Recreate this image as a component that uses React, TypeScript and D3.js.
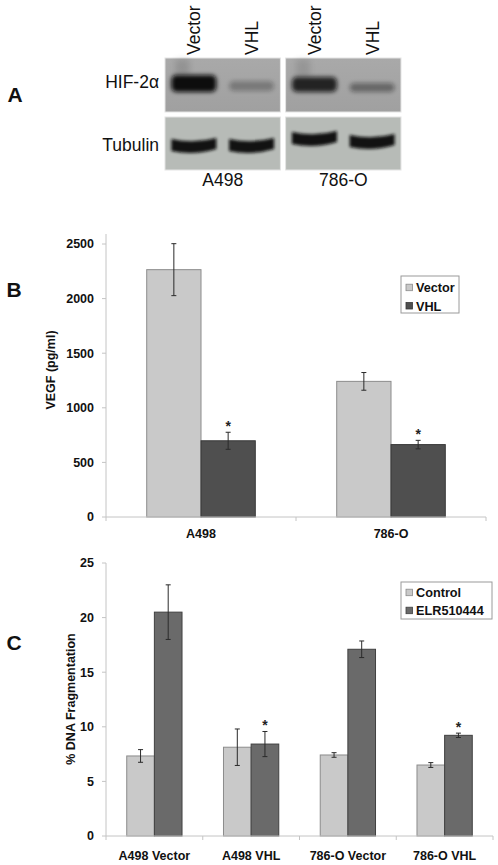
import React from 'react';
import * as d3 from 'd3';

// ---------- Panel A (western blot) ----------
const blotLanes = ['Vector', 'VHL', 'Vector', 'VHL'];
const blotCellLines = ['A498', '786-O'];
const blotRows = ['HIF-2α', 'Tubulin'];
const hifIntensity = [1.0, 0.28, 0.85, 0.4];
const tubulinIntensity = [0.97, 0.97, 0.97, 0.97];

// ---------- Panel B (VEGF) ----------
const vegfCategories = ['A498', '786-O'];
const vegfSeries = ['Vector', 'VHL'];
const vegfVector = [2265, 1242];
const vegfVectorErr = [238, 81];
const vegfVHL = [698, 663];
const vegfVHLErr = [78, 39];
const vegfStars = [true, true];
const vegfTicks = [0, 500, 1000, 1500, 2000, 2500];

// ---------- Panel C (DNA fragmentation) ----------
const fragCategories = ['A498 Vector', 'A498 VHL', '786-O Vector', '786-O VHL'];
const fragSeries = ['Control', 'ELR510444'];
const fragControl = [7.33, 8.13, 7.42, 6.5];
const fragControlErr = [0.58, 1.67, 0.21, 0.22];
const fragELR = [20.5, 8.42, 17.1, 9.22];
const fragELRErr = [2.5, 1.15, 0.76, 0.2];
const fragStars = [false, true, false, true];
const fragTicks = [0, 5, 10, 15, 20, 25];

const SANS = '"Liberation Sans", Arial, Helvetica, sans-serif';

type ChartProps = {
  cats: string[];
  series: string[];
  vals: number[][];
  errs: number[][];
  stars: boolean[];
  ticks: number[];
  xLeft: number;
  xRight: number;
  yTop: number;
  yBottom: number;
  axisTop: number;
  fills: string[];
  strokes: string[];
  yLabel: string;
  yLabelX: number;
  yLabelCY: number;
  catLabelY: number;
  legendX: number;
  legendY: number;
  legendW: number;
  legendH: number;
  legendRows: number[];
};

function BarChart(p: ChartProps) {
  const yMax = p.ticks[p.ticks.length - 1];
  const y = d3.scaleLinear().domain([0, yMax]).range([p.yBottom, p.yTop]);
  const x0 = d3.scaleBand<string>().domain(p.cats).range([p.xLeft, p.xRight]).padding(0);
  const x1 = d3
    .scaleBand<string>()
    .domain(p.series)
    .range([0, x0.step()])
    .paddingInner(0)
    .paddingOuter(0.75);
  const axisColor = '#c4c4c4';
  const bounds = [...p.cats.map((c) => x0(c) as number), p.xRight];
  return (
    <g>
      <line x1={p.xLeft} x2={p.xLeft} y1={p.axisTop} y2={p.yBottom} stroke={axisColor} strokeWidth={1} />
      {p.ticks.map((t) => (
        <g key={'t' + t}>
          <line x1={p.xLeft - 4} x2={p.xLeft} y1={y(t)} y2={y(t)} stroke={axisColor} />
          <text
            x={p.xLeft - 12}
            y={y(t)}
            dy="0.35em"
            textAnchor="end"
            fontFamily={SANS}
            fontWeight="bold"
            fontSize={12.5}
            fill="#111"
          >
            {t}
          </text>
        </g>
      ))}
      <text
        transform={`translate(${p.yLabelX},${p.yLabelCY}) rotate(-90)`}
        textAnchor="middle"
        fontFamily={SANS}
        fontWeight="bold"
        fontSize={12.5}
        fill="#111"
      >
        {p.yLabel}
      </text>
      {p.cats.map((c, ci) =>
        p.series.map((s, si) => {
          const v = p.vals[si][ci];
          const e = p.errs[si][ci];
          const bx = (x0(c) as number) + (x1(s) as number);
          const bw = x1.bandwidth();
          const cx = bx + bw / 2;
          return (
            <g key={c + s}>
              <rect
                x={bx}
                y={y(v)}
                width={bw}
                height={p.yBottom - y(v)}
                fill={p.fills[si]}
                stroke={p.strokes[si]}
                strokeWidth={1}
              />
              <line x1={cx} x2={cx} y1={y(v + e)} y2={y(v - e)} stroke="#2a2a2a" strokeWidth={1} />
              <line x1={cx - 2.5} x2={cx + 2.5} y1={y(v + e)} y2={y(v + e)} stroke="#2a2a2a" strokeWidth={1} />
              <line x1={cx - 2.5} x2={cx + 2.5} y1={y(v - e)} y2={y(v - e)} stroke="#2a2a2a" strokeWidth={1} />
              {si === 1 && p.stars[ci] ? (
                <text
                  x={cx}
                  y={y(v + e) - 1}
                  textAnchor="middle"
                  fontFamily={SANS}
                  fontWeight="bold"
                  fontSize={14}
                  fill="#222"
                >
                  *
                </text>
              ) : null}
            </g>
          );
        })
      )}
      <line x1={p.xLeft} x2={p.xRight} y1={p.yBottom} y2={p.yBottom} stroke={axisColor} strokeWidth={1} />
      {bounds.map((bx, i) => (
        <line key={'b' + i} x1={bx} x2={bx} y1={p.yBottom} y2={p.yBottom + 4} stroke={axisColor} />
      ))}
      {p.cats.map((c) => (
        <text
          key={'c' + c}
          x={(x0(c) as number) + x0.bandwidth() / 2}
          y={p.catLabelY}
          textAnchor="middle"
          fontFamily={SANS}
          fontWeight="bold"
          fontSize={12.5}
          fill="#111"
        >
          {c}
        </text>
      ))}
      <rect x={p.legendX} y={p.legendY} width={p.legendW} height={p.legendH} fill="#fff" stroke="#9a9a9a" strokeWidth={1} />
      {p.series.map((s, si) => (
        <g key={'l' + s}>
          <rect
            x={p.legendX + 5}
            y={p.legendRows[si] - 3.5}
            width={6.5}
            height={6.5}
            fill={p.fills[si]}
            stroke={p.strokes[si]}
            strokeWidth={0.8}
          />
          <text
            x={p.legendX + 15}
            y={p.legendRows[si]}
            dy="0.36em"
            fontFamily={SANS}
            fontWeight="bold"
            fontSize={12.7}
            fill="#111"
          >
            {s}
          </text>
        </g>
      ))}
    </g>
  );
}

function Blot() {
  const panels = d3.scaleBand<string>().domain(blotCellLines).range([165, 401]).paddingInner(0.043);
  const laneX = (i: number) => {
    const cl = blotCellLines[Math.floor(i / 2)];
    const lanes = d3
      .scalePoint<string>()
      .domain(['a', 'b'])
      .range([panels(cl) as number, (panels(cl) as number) + panels.bandwidth()])
      .padding(0.5);
    return lanes(i % 2 === 0 ? 'a' : 'b') as number;
  };
  const hifTop = 58;
  const hifH = 54;
  const tubTop = 117;
  const tubH = 53;
  const bandW = 45;
  const hifBandY = [[75, 92], [81, 91], [77, 92], [83, 92]];
  const tubBandY = [139, 139, 132, 135];
  return (
    <g>
      <defs>
        <filter id="blur2" x="-20%" y="-60%" width="140%" height="220%">
          <feGaussianBlur stdDeviation="2.2" />
        </filter>
        <filter id="blurT" x="-20%" y="-60%" width="140%" height="220%">
          <feGaussianBlur stdDeviation="1.6" />
        </filter>
        <filter id="blur4" x="-50%" y="-50%" width="200%" height="200%">
          <feGaussianBlur stdDeviation="3" />
        </filter>
        <linearGradient id="hifBg" x1="0" y1="0" x2="0" y2="1">
          <stop offset="0" stopColor="#a9a9a9" />
          <stop offset="1" stopColor="#a0a0a0" />
        </linearGradient>
      </defs>
      <text x={15} y={102} textAnchor="middle" fontFamily={SANS} fontWeight="bold" fontSize={21} fill="#111">
        A
      </text>
      {blotCellLines.map((cl) => (
        <g key={cl}>
          <rect x={panels(cl)} y={hifTop} width={panels.bandwidth()} height={hifH} fill="url(#hifBg)" stroke="#e4e4e4" />
          <rect x={panels(cl)} y={tubTop} width={panels.bandwidth()} height={tubH} fill="#b7bbb7" stroke="#e4e4e4" />
          <text
            x={(panels(cl) as number) + panels.bandwidth() / 2}
            y={186}
            textAnchor="middle"
            fontFamily={SANS}
            fontSize={17.5}
            fill="#111"
          >
            {cl}
          </text>
        </g>
      ))}
      {blotLanes.map((ln, i) => {
        const cx = laneX(i);
        const [y0, y1] = hifBandY[i];
        const ty = tubBandY[i];
        const x0 = cx - bandW / 2;
        const x1 = cx + bandW / 2;
        return (
          <g key={'lane' + i}>
            <text
              transform={`translate(${cx + 6.5},55) rotate(-90)`}
              fontFamily={SANS}
              fontSize={17.5}
              fill="#111"
            >
              {ln}
            </text>
            {i % 2 === 0 ? (
              <rect x={x0 + 4} y={hifTop + 1} width={14} height={y0 - hifTop} fill="#000" opacity={0.12 * hifIntensity[i]} filter="url(#blur4)" />
            ) : null}
            <rect
              x={x0}
              y={y0}
              width={bandW}
              height={y1 - y0}
              rx={5}
              fill="#0a0a0a"
              opacity={hifIntensity[i]}
              filter="url(#blur2)"
            />
            <path
              d={`M${x0},${ty} Q${cx},${ty + 5} ${x1},${ty - 1} L${x1},${ty + 10} Q${cx},${ty + 17} ${x0},${ty + 12} Z`}
              fill="#0d0d0d"
              opacity={tubulinIntensity[i]}
              filter="url(#blurT)"
            />
          </g>
        );
      })}
      {blotRows.map((r, i) => (
        <text key={r} x={159} y={i === 0 ? 88 : 150.5} textAnchor="end" fontFamily={SANS} fontSize={17.5} fill="#111">
          {r}
        </text>
      ))}
    </g>
  );
}

export default function App() {
  return (
    <svg
      width={498}
      height={865}
      viewBox="0 0 498 865"
      style={{ position: 'absolute', left: 0, top: 0, background: '#fff' }}
    >
      <rect x={0} y={0} width={498} height={865} fill="#fff" />
      <Blot />
      <text x={14} y={297} textAnchor="middle" fontFamily={SANS} fontWeight="bold" fontSize={21} fill="#111">
        B
      </text>
      <BarChart
        cats={vegfCategories}
        series={vegfSeries}
        vals={[vegfVector, vegfVHL]}
        errs={[vegfVectorErr, vegfVHLErr]}
        stars={vegfStars}
        ticks={vegfTicks}
        xLeft={106}
        xRight={486}
        yTop={244}
        yBottom={517}
        axisTop={234}
        fills={['#c9c9c9', '#4f4f4f']}
        strokes={['#8c8c8c', '#383838']}
        yLabel="VEGF (pg/ml)"
        yLabelX={55}
        yLabelCY={370}
        catLabelY={538}
        legendX={401}
        legendY={276}
        legendW={58}
        legendH={37}
        legendRows={[287.7, 306]}
      />
      <text x={14} y={650} textAnchor="middle" fontFamily={SANS} fontWeight="bold" fontSize={21} fill="#111">
        C
      </text>
      <BarChart
        cats={fragCategories}
        series={fragSeries}
        vals={[fragControl, fragELR]}
        errs={[fragControlErr, fragELRErr]}
        stars={fragStars}
        ticks={fragTicks}
        xLeft={106}
        xRight={493}
        yTop={563}
        yBottom={836}
        axisTop={563}
        fills={['#c9c9c9', '#6a6a6a']}
        strokes={['#8c8c8c', '#404040']}
        yLabel="% DNA Fragmentation"
        yLabelX={74.5}
        yLabelCY={699}
        catLabelY={860}
        legendX={401}
        legendY={582}
        legendW={91}
        legendH={37}
        legendRows={[592.7, 610.7]}
      />
    </svg>
  );
}
